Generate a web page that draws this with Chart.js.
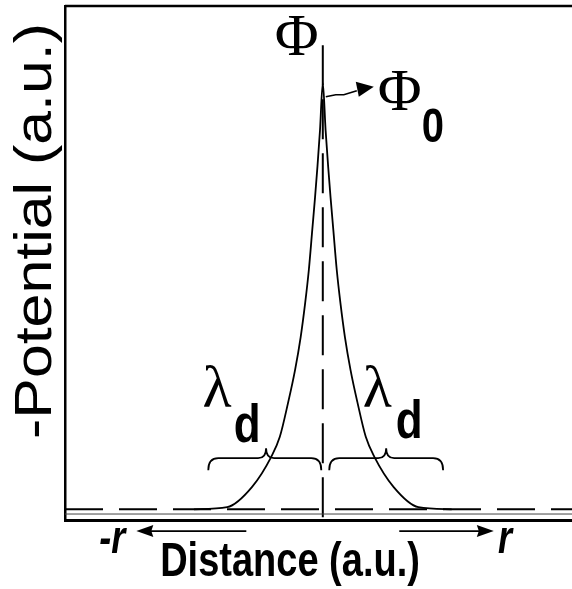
<!DOCTYPE html>
<html>
<head>
<meta charset="utf-8">
<script src="https://cdn.jsdelivr.net/npm/chart.js@4"></script>
<style>
  html, body { margin: 0; padding: 0; background: #fff; }
  #wrap { width: 572px; height: 589px; position: relative; }
</style>
</head>
<body>
<div id="wrap"><canvas id="potentialChart"></canvas></div>
<script>
// potential profile (distance in a.u., -potential normalised to the peak)
const curveX = [-6.0, -4.45, -3.3, -2.4, -2.0, -1.62, -1.29, -1.03, -0.82, -0.65, -0.49, -0.36, -0.25, -0.13, 0,
                0.13, 0.25, 0.36, 0.49, 0.65, 0.82, 1.03, 1.29, 1.62, 2.0, 2.4, 3.3, 4.45, 6.0];
const curveY = [0.0, 0.005, 0.052, 0.123, 0.170, 0.249, 0.327, 0.404, 0.484, 0.561, 0.655, 0.732, 0.803, 0.889, 1.0,
                0.889, 0.803, 0.732, 0.655, 0.561, 0.484, 0.404, 0.327, 0.249, 0.170, 0.123, 0.052, 0.005, 0.0];

// reference lines
const baselineX = [-12, 11.6];
const baselineY = [0, 0];
const lowerLineY = [-0.011, -0.011];
const centerX = [0, 0];
const centerY = [1.088, -0.025];

// screening length braces (start, cusp, end) and their height
const braceLeft = [-5.33, -2.64, -0.07];
const braceRight = [0.30, 2.95, 5.6];
const braceLevel = 0.12;

const xRange = [-12, 11.6];
const yRange = [-0.025, 1.18];

const toPoints = (xs, ys) => xs.map((x, i) => ({ x: x, y: ys[i] }));

function stretchText(ctx, text, x, y, font, sy, align) {
    ctx.save();
    ctx.translate(x, y);
    ctx.scale(1, sy);
    ctx.font = font;
    ctx.textAlign = align || 'center';
    ctx.textBaseline = 'alphabetic';
    ctx.fillText(text, 0, 0);
    ctx.restore();
}

function drawBrace(ctx, x0, xm, x1, y) {
    ctx.beginPath();
    ctx.moveTo(x0, y + 12);
    ctx.quadraticCurveTo(x0, y, x0 + 10, y);
    ctx.lineTo(xm - 8, y);
    ctx.quadraticCurveTo(xm, y, xm, y - 10);
    ctx.quadraticCurveTo(xm, y, xm + 8, y);
    ctx.lineTo(x1 - 10, y);
    ctx.quadraticCurveTo(x1, y, x1, y + 12);
    ctx.stroke();
}

function arrowHead(ctx, tipX, tipY, dir) {
    ctx.beginPath();
    ctx.moveTo(tipX, tipY);
    ctx.lineTo(tipX - dir * 17, tipY - 6);
    ctx.lineTo(tipX - dir * 15, tipY);
    ctx.lineTo(tipX - dir * 17, tipY + 6);
    ctx.closePath();
    ctx.fill();
}

const decorations = {
    id: 'decorations',
    afterDraw(chart) {
        const ctx = chart.ctx;
        const a = chart.chartArea;
        const xs = chart.scales.x;
        const ys = chart.scales.y;
        ctx.save();
        ctx.strokeStyle = '#000';
        ctx.fillStyle = '#000';

        // top frame line
        ctx.lineWidth = 2.5;
        ctx.beginPath();
        ctx.moveTo(a.left, a.top);
        ctx.lineTo(a.right, a.top);
        ctx.stroke();

        // braces for lambda_d
        ctx.lineWidth = 1.8;
        const by = ys.getPixelForValue(braceLevel);
        drawBrace(ctx, xs.getPixelForValue(braceLeft[0]), xs.getPixelForValue(braceLeft[1]),
            xs.getPixelForValue(braceLeft[2]), by);
        drawBrace(ctx, xs.getPixelForValue(braceRight[0]), xs.getPixelForValue(braceRight[1]),
            xs.getPixelForValue(braceRight[2]), by);

        // arrow pointing at the peak value
        const px = xs.getPixelForValue(0);
        const py = ys.getPixelForValue(1);
        ctx.lineWidth = 1.6;
        ctx.beginPath();
        ctx.moveTo(px + 3, py + 14);
        ctx.lineTo(px + 13, py + 12);
        ctx.lineTo(px + 21, py + 12);
        ctx.lineTo(px + 34, py + 8);
        ctx.stroke();
        ctx.beginPath();
        ctx.moveTo(px + 51, py + 4);
        ctx.lineTo(px + 33, py - 1);
        ctx.lineTo(px + 36, py + 14);
        ctx.closePath();
        ctx.fill();

        // direction arrows under the axis
        const ay = ys.getPixelForValue(-0.051);
        ctx.lineWidth = 1.8;
        ctx.beginPath();
        ctx.moveTo(xs.getPixelForValue(-3.56), ay);
        ctx.lineTo(xs.getPixelForValue(-8.3), ay);
        ctx.moveTo(xs.getPixelForValue(3.56), ay);
        ctx.lineTo(xs.getPixelForValue(7.6), ay);
        ctx.stroke();
        arrowHead(ctx, xs.getPixelForValue(-8.68), ay, -1);
        arrowHead(ctx, xs.getPixelForValue(7.96), ay, 1);

        // labels
        const serif = "'Liberation Serif', 'DejaVu Serif', serif";
        const sans = "'Liberation Sans', Arial, sans-serif";
        stretchText(ctx, 'Φ', px - 26, 55, '60px ' + serif, 1.0, 'center');
        stretchText(ctx, 'Φ', px + 77, 110, '60px ' + serif, 1.0, 'center');
        stretchText(ctx, '0', px + 99, 142, 'bold 40px ' + sans, 1.2, 'left');

        stretchText(ctx, 'λ', xs.getPixelForValue(braceLeft[1]) - 49, 407, '60px ' + serif, 1.0, 'center');
        stretchText(ctx, 'd', xs.getPixelForValue(braceLeft[1]) - 19, 442, 'bold 44px ' + sans, 1.2, 'center');
        stretchText(ctx, 'λ', xs.getPixelForValue(braceRight[1]) - 9, 407, '60px ' + serif, 1.0, 'center');
        stretchText(ctx, 'd', xs.getPixelForValue(braceRight[1]) + 23, 438, 'bold 44px ' + sans, 1.2, 'center');

        stretchText(ctx, '-r', xs.getPixelForValue(-9.2), 553, 'bold italic 36px ' + sans, 1.3, 'right');
        stretchText(ctx, 'r', xs.getPixelForValue(8.15), 553, 'bold italic 36px ' + sans, 1.3, 'left');

        // axis titles
        stretchText(ctx, 'Distance (a.u.)', 290, 576, 'bold 38px ' + sans, 1.25, 'center');
        ctx.save();
        ctx.translate(51, 231);
        ctx.rotate(-Math.PI / 2);
        ctx.scale(1.17, 1);
        ctx.font = '52px ' + sans;
        ctx.textAlign = 'center';
        ctx.textBaseline = 'alphabetic';
        ctx.fillText('-Potential (a.u.)', 0, 0);
        ctx.restore();

        ctx.restore();
    }
};

const ctx = document.getElementById('potentialChart').getContext('2d');
new Chart(ctx, {
    type: 'line',
    data: {
        datasets: [
            {
                label: 'lower line',
                data: toPoints(baselineX, lowerLineY),
                borderColor: '#444',
                borderWidth: 1,
                pointRadius: 0
            },
            {
                label: 'baseline',
                data: toPoints(baselineX, baselineY),
                borderColor: '#000',
                borderWidth: 2,
                borderDash: [38, 16],
                pointRadius: 0
            },
            {
                label: 'center',
                data: toPoints(centerX, centerY),
                borderColor: '#000',
                borderWidth: 2,
                borderDash: [40, 14],
                pointRadius: 0
            },
            {
                label: '-Potential',
                data: toPoints(curveX, curveY),
                borderColor: '#000',
                borderWidth: 1.8,
                pointRadius: 0,
                cubicInterpolationMode: 'monotone'
            }
        ]
    },
    options: {
        responsive: true,
        maintainAspectRatio: false,
        animation: false,
        layout: {
            padding: { left: 65, top: 6, right: 0, bottom: 69 }
        },
        scales: {
            x: {
                type: 'linear',
                min: xRange[0],
                max: xRange[1],
                ticks: { display: false },
                grid: { display: false, drawTicks: false },
                border: { display: true, color: '#000', width: 3 }
            },
            y: {
                min: yRange[0],
                max: yRange[1],
                ticks: { display: false },
                grid: { display: false, drawTicks: false },
                border: { display: true, color: '#000', width: 2.5 }
            }
        },
        plugins: {
            legend: { display: false },
            tooltip: { enabled: false }
        }
    },
    plugins: [decorations]
});
</script>
</body>
</html>
